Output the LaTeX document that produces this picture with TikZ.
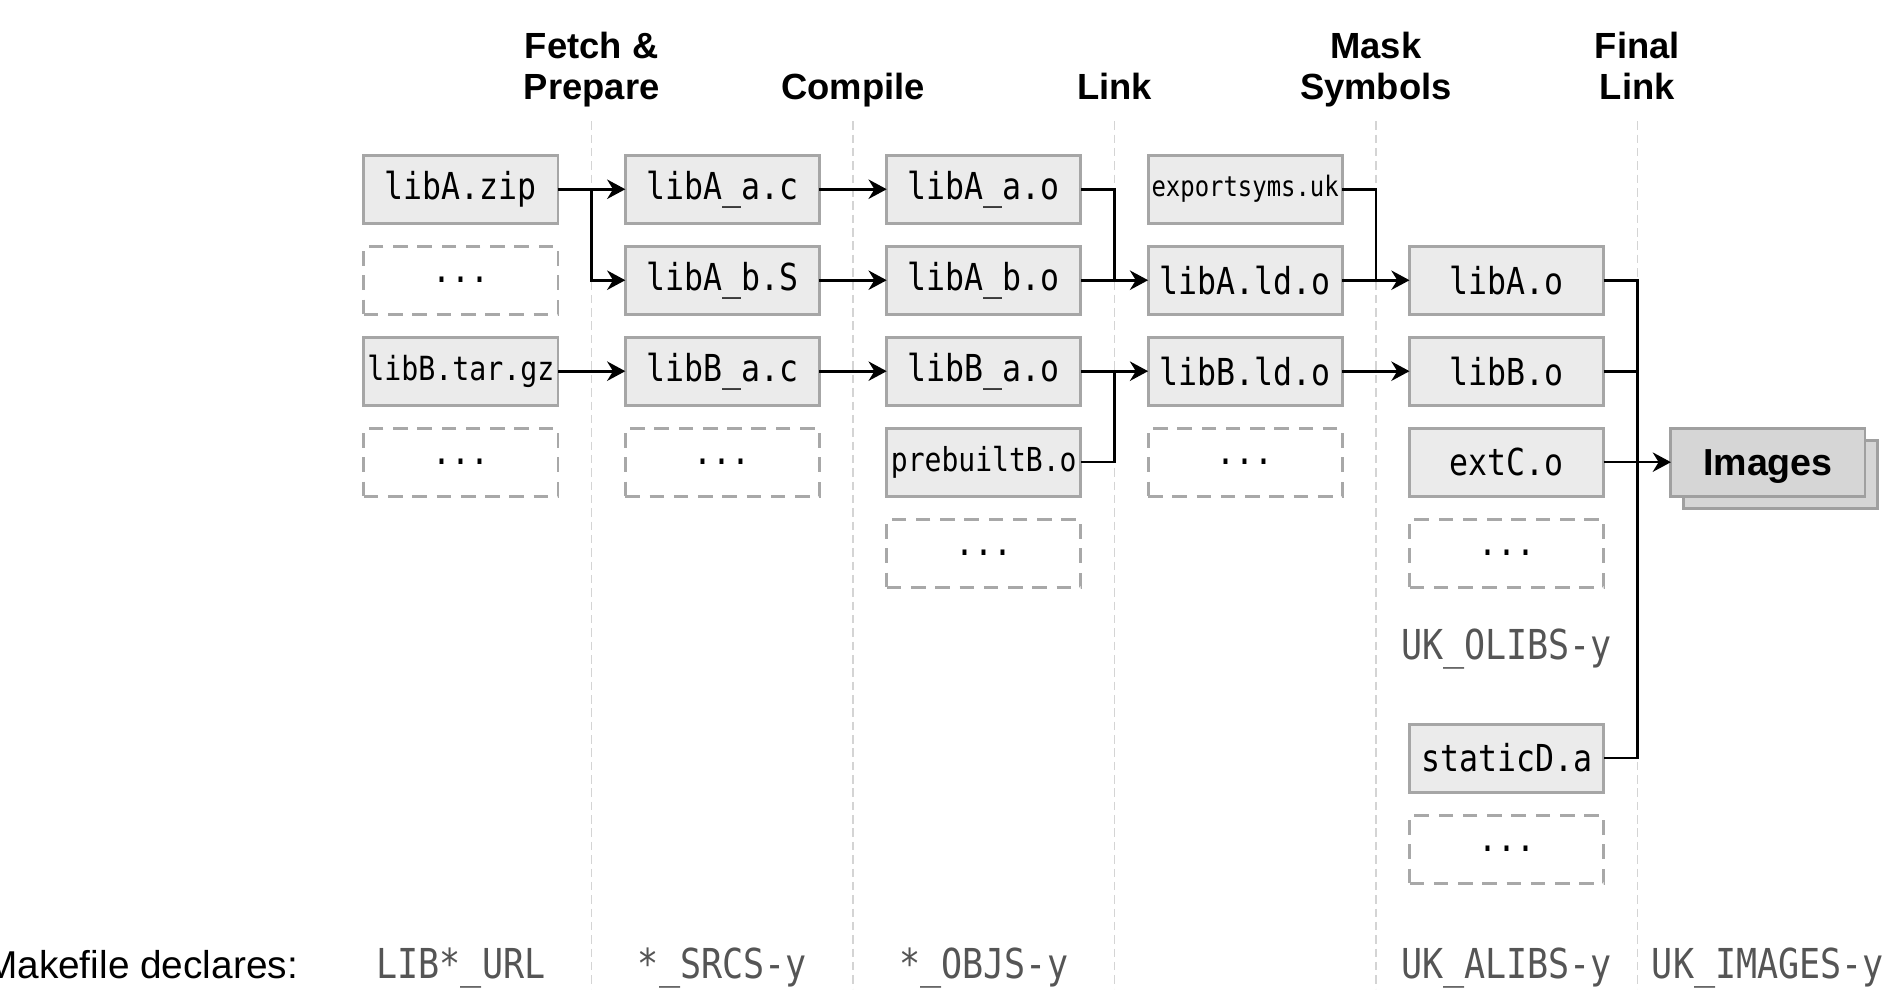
\documentclass[tikz,border=0pt]{standalone}
\usepackage{fontspec}
\setmainfont{Liberation Sans}
\setmonofont[FakeStretch=0.85]{DejaVu Sans Mono}
\usetikzlibrary{arrows.meta,positioning,shadows,backgrounds}
\definecolor{boxfill}{HTML}{EBEBEB}
\definecolor{boxline}{HTML}{A6A6A6}
\definecolor{dashline}{HTML}{A8A8A8}
\definecolor{imgfill}{HTML}{D6D6D6}
\definecolor{imgline}{HTML}{A0A0A0}
\definecolor{sepgray}{HTML}{D4D4D4}
\definecolor{vargray}{HTML}{555555}
\newcommand\us{\char"5F\relax}

\begin{document}
\begin{tikzpicture}[
  >={Stealth[length=7.5pt,width=8pt]}, node distance=9.5pt and 27.75pt,
  filebox/.style={draw=boxline,fill=boxfill,line width=1.2pt,minimum width=80pt,
    minimum height=28pt,inner sep=0pt,outer sep=0pt,font=\fontsize{15.3}{16}\selectfont\ttfamily},
  dotbox/.style={filebox,draw=dashline,fill=none,dash pattern=on 6pt off 4pt},
  stage/.style={font=\fontsize{15}{17}\selectfont\bfseries,align=center,anchor=base},
  makevar/.style={font=\fontsize{17}{17}\selectfont\ttfamily,text=vargray,anchor=base},
  stagesep/.style={draw=sepgray,line width=0.6pt,dash pattern=on 3.5pt off 2pt},
  flow/.style={->,line width=1.1pt},
  wire/.style={line width=1.1pt}
]
\useasboundingbox (0,0) rectangle (784pt,-414.7pt);
\coordinate (head) at (0,-41.2pt);
\coordinate (foot) at (0,-403.5pt);

% fetch & prepare
\node[filebox] (zipA) at (190pt,-78pt) {libA.zip};
\node[dotbox, below=of zipA] (dotsZa) {...};
\node[filebox, below=of dotsZa, font=\fontsize{13.7}{16}\selectfont\ttfamily] (gzB) {libB.tar.gz};
\node[dotbox, below=of gzB] (dotsZb) {...};
% compile
\node[filebox, right=of zipA] (srcAa) {libA\us a.c};
\node[filebox, below=of srcAa] (srcAb) {libA\us b.S};
\node[filebox, below=of srcAb] (srcBa) {libB\us a.c};
\node[dotbox, below=of srcBa] (dotsS) {...};
% link
\node[filebox, right=of srcAa] (objAa) {libA\us a.o};
\node[filebox, below=of objAa] (objAb) {libA\us b.o};
\node[filebox, below=of objAb] (objBa) {libB\us a.o};
\node[filebox, below=of objBa, font=\fontsize{13.6}{16}\selectfont\ttfamily] (prebuilt) {prebuiltB.o};
\node[dotbox, below=of prebuilt] (dotsO) {...};
% mask symbols
\node[filebox, right=of objAa, font=\fontsize{11.6}{14}\selectfont\ttfamily] (syms) {exportsyms.uk};
\node[filebox, below=of syms] (ldA) {libA.ld.o};
\node[filebox, below=of ldA] (ldB) {libB.ld.o};
\node[dotbox, below=of ldB] (dotsL) {...};
% final link
\node[filebox, right=of ldA] (oA) {libA.o};
\node[filebox, below=of oA] (oB) {libB.o};
\node[filebox, below=of oB] (oC) {extC.o};
\node[dotbox, below=of oC] (dotsC) {...};
\node[filebox, below=56.5pt of dotsC] (staticD) {staticD.a};
\node[dotbox, below=of staticD] (dotsD) {...};
\node[makevar] (olibs) at (oA |- 0,-271.7pt) {UK\us OLIBS-y};
\node[filebox, right=of oC, fill=imgfill, draw=imgline, text depth=0pt,
  copy shadow={shadow xshift=5pt,shadow yshift=-5pt,fill=imgfill,draw=imgline,line width=1.2pt},
  font=\fontsize{15.5}{18}\selectfont\bfseries] (img) {Images};

% stage borders
\path (dotsZa.east) -- (srcAb.west) coordinate[midway] (s1);
\path (srcAb.east) -- (objAb.west) coordinate[midway] (s2);
\path (objAb.east) -- (ldA.west) coordinate[midway] (s3);
\path (ldA.east) -- (oA.west) coordinate[midway] (s4);
\path (oC.east) -- (img.west) coordinate[midway] (s5);
\begin{scope}[on background layer]
\foreach \n in {1,...,5}
  \draw[stagesep] (s\n |- 0,-50pt) -- (s\n |- 0,-407.5pt);
\end{scope}

\node[stage] (hFetch) at (s1 |- head) {Fetch \&\\Prepare};
\node[stage] (hCompile) at (s2 |- head) {Compile};
\node[stage] (hLink) at (s3 |- head) {Link};
\node[stage] (hMask) at (s4 |- head) {Mask\\Symbols};
\node[stage] (hFinal) at (s5 |- head) {Final\\Link};

\node[font=\fontsize{16}{16}\selectfont, anchor=base east, inner sep=0pt] (declares) at (123pt,-403.5pt) {Makefile declares:};
\node[makevar] (vUrl) at (zipA |- foot) {LIB*\us URL};
\node[makevar] (vSrcs) at (srcAa |- foot) {*\us SRCS-y};
\node[makevar] (vObjs) at (objAa |- foot) {*\us OBJS-y};
\node[makevar] (vAlibs) at (oA |- foot) {UK\us ALIBS-y};
\node[makevar] (vImages) at (img |- foot) {UK\us IMAGES-y};

\draw[flow] (zipA) -- (srcAa);
\draw[flow] (zipA.east) -| (s1) -- (srcAb.west);
\draw[flow] (gzB) -- (srcBa);
\draw[flow] (srcAa) -- (objAa);
\draw[flow] (srcAb) -- (objAb);
\draw[flow] (srcBa) -- (objBa);
\draw[wire] (objAa.east) -| (s3);
\draw[flow] (objAb) -- (ldA);
\draw[flow] (objBa) -- (ldB);
\draw[wire] (prebuilt.east) -| (s3 |- ldB);
\draw[wire] (syms.east) -| (s4);
\draw[flow] (ldA) -- (oA);
\draw[flow] (ldB) -- (oB);
\draw[wire] (oA.east) -| (s5 |- staticD) -- (staticD.east);
\draw[wire] (oB.east) -- (oB -| s5);
\draw[flow] (oC) -- (img);
\end{tikzpicture}
\end{document}
